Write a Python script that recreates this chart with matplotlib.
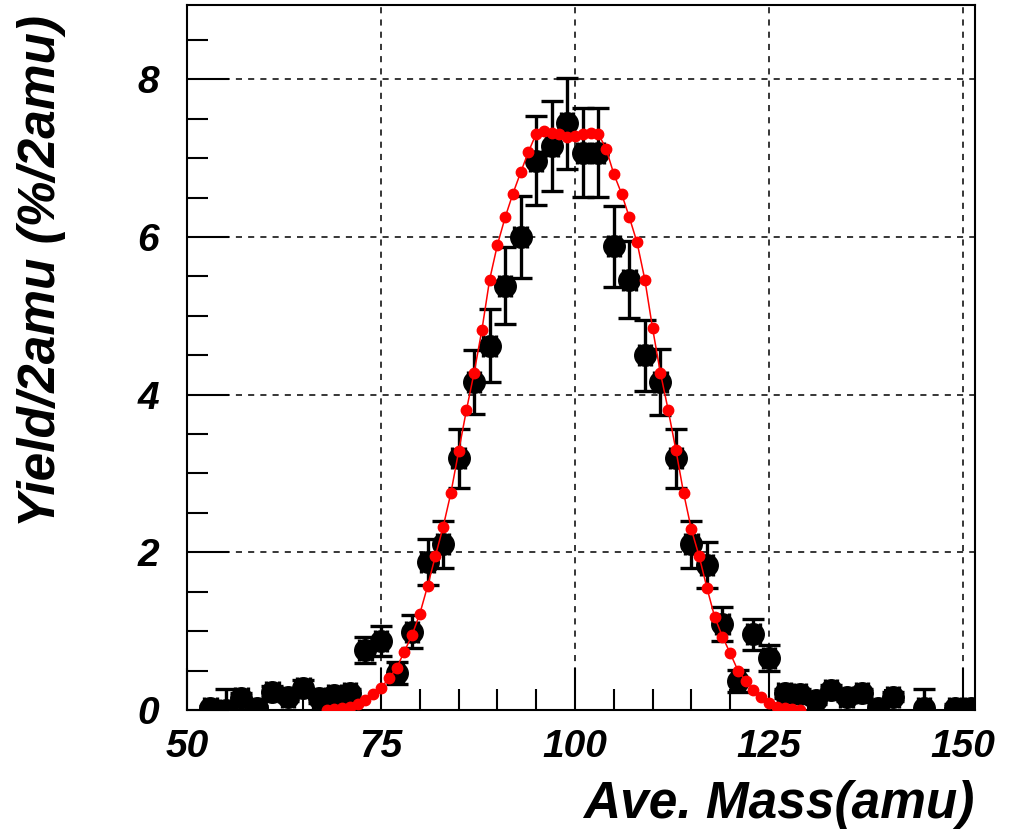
import matplotlib
matplotlib.use('Agg')
import matplotlib.pyplot as plt
from matplotlib.ticker import MultipleLocator

plt.rcParams['font.family'] = ['Liberation Sans', 'DejaVu Sans']

# measured yield (black points with error bars)
mass_data = [53, 55, 57, 59, 61, 63, 65, 67, 69, 71, 73, 75, 77, 79, 81, 83, 85, 87, 89,
             91, 93, 95, 97, 99, 101, 103, 105, 107, 109, 111, 113, 115, 117, 119, 121,
             123, 125, 127, 129, 131, 133, 135, 137, 139, 141, 145, 149, 151]
yield_data = [0.02, 0.0, 0.15, 0.02, 0.23, 0.17, 0.28, 0.15, 0.19, 0.21, 0.76, 0.87, 0.47,
              0.99, 1.88, 2.1, 3.19, 4.16, 4.62, 5.38, 6.0, 6.97, 7.15, 7.44, 7.07, 7.07,
              5.88, 5.46, 4.5, 4.16, 3.19, 2.1, 1.84, 1.09, 0.37, 0.96, 0.66, 0.21, 0.2,
              0.13, 0.25, 0.17, 0.21, 0.02, 0.17, 0.02, 0.03, 0.02]
yield_err = [0.03, 0.27, 0.06, 0.03, 0.07, 0.06, 0.1, 0.06, 0.06, 0.06, 0.16, 0.19, 0.14,
             0.21, 0.29, 0.3, 0.37, 0.4, 0.46, 0.49, 0.52, 0.56, 0.57, 0.58, 0.56, 0.56,
             0.51, 0.49, 0.45, 0.42, 0.37, 0.3, 0.29, 0.22, 0.14, 0.2, 0.16, 0.06, 0.06,
             0.05, 0.07, 0.06, 0.06, 0.03, 0.06, 0.25, 0.05, 0.03]

# calculated yield (red curve)
mass_calc = [68, 69, 70, 71, 72, 73, 74, 75, 76, 77, 78, 79, 80, 81, 82, 83, 84, 85, 86,
             87, 88, 89, 90, 91, 92, 93, 94, 95, 96, 97, 98, 99, 100, 101, 102, 103, 104,
             105, 106, 107, 108, 109, 110, 111, 112, 113, 114, 115, 116, 117, 118, 119,
             120, 121, 122, 123, 124, 125, 126, 127, 128, 129]
yield_calc = [0.0, 0.01, 0.02, 0.04, 0.08, 0.13, 0.2, 0.28, 0.4, 0.53, 0.74, 0.95, 1.22,
              1.57, 1.95, 2.32, 2.75, 3.28, 3.8, 4.28, 4.82, 5.46, 5.9, 6.25, 6.55, 6.82,
              7.08, 7.31, 7.34, 7.32, 7.3, 7.27, 7.28, 7.3, 7.32, 7.31, 7.12, 6.8, 6.55,
              6.25, 5.93, 5.46, 4.84, 4.28, 3.81, 3.3, 2.75, 2.29, 1.95, 1.55, 1.18, 0.93,
              0.72, 0.5, 0.37, 0.25, 0.16, 0.09, 0.04, 0.02, 0.01, 0.0]

fig = plt.figure(figsize=(10.11, 8.39), dpi=100)
ax = fig.add_axes([0.185, 0.1538, 0.779, 0.840])

ax.errorbar(mass_data, yield_data, yerr=yield_err, xerr=0.8, fmt='o', color='black',
            markersize=15.5, elinewidth=2.4, capsize=8, capthick=2.4, zorder=3)
ax.plot(mass_calc, yield_calc, '-o', color='red', markersize=7.5, linewidth=1.1, zorder=4)

ax.set_xlim(50, 151.5)
ax.set_ylim(0, 8.94)
ax.xaxis.set_major_locator(MultipleLocator(25))
ax.xaxis.set_minor_locator(MultipleLocator(5))
ax.yaxis.set_major_locator(MultipleLocator(2))
ax.yaxis.set_minor_locator(MultipleLocator(0.5))

ax.grid(True, which='major', color='black', linestyle=(0, (4, 4)), linewidth=1.1)
ax.set_axisbelow(True)

tick_font = dict(family='Liberation Sans', weight='bold', style='italic', size=28)
ax.tick_params(which='major', direction='in', length=30, width=1.5, pad=14)
ax.tick_params(which='minor', direction='in', length=15, width=1.5)
for lab in ax.get_xticklabels() + ax.get_yticklabels():
    lab.set_fontproperties(tick_font)
ax.tick_params(axis='y', pad=20)

for s in ax.spines.values():
    s.set_linewidth(1.5)

ax.set_xlabel('Ave. Mass(amu)', loc='right', fontsize=37, fontweight='bold',
              fontstyle='italic')
ax.xaxis.set_label_coords(1.0, -0.1)
ax.set_ylabel('Yield/2amu (%/2amu)', loc='top', fontsize=37, fontweight='bold',
              fontstyle='italic')
ax.yaxis.set_label_coords(-0.154, 0.986)

fig.savefig('out.png', dpi=100)
